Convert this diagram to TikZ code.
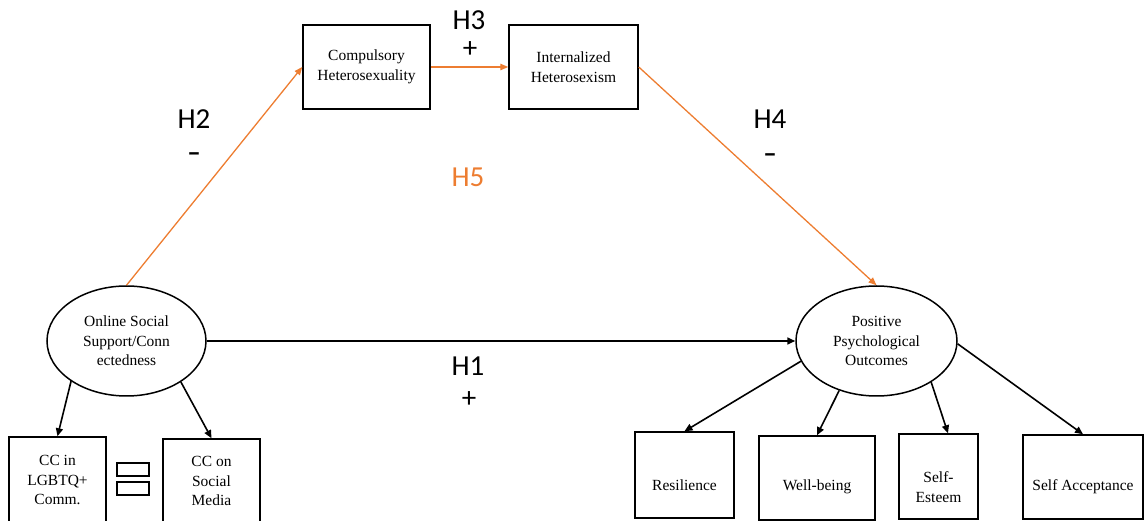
\documentclass[tikz,border=0pt]{standalone}
\usepackage{fontspec}
\setmainfont{Liberation Serif}
\newfontfamily\hypfont{Carlito}
\usetikzlibrary{arrows.meta,shapes.geometric}

\definecolor{pathorange}{RGB}{237,125,49}

\tikzset{
  varbox/.style={draw=black, line width=1.5pt, rectangle, inner sep=0pt,
    align=center, font=\fontsize{15.5}{19.5}\selectfont},
  latent/.style={draw=black, line width=1.5pt, ellipse, inner sep=0pt,
    align=center, font=\fontsize{15.5}{19.5}\selectfont},
  boxtext/.style={inner sep=0pt, align=center, font=\fontsize{15.5}{19.5}\selectfont},
  hyp/.style={inner sep=0pt, font=\hypfont\fontsize{29}{30}\selectfont},
  sign/.style={inner sep=0pt, font=\hypfont\bfseries\fontsize{27}{30}\selectfont},
  blackarrow/.style={draw=black, line width=1.6pt, -{Triangle[length=8pt,width=7pt]}},
  orangearrow/.style={draw=pathorange, line width=1.3pt, -{Triangle[length=8pt,width=6.5pt]}},
  eqbar/.style={draw=black, line width=1.6pt, rectangle, inner sep=0pt,
    minimum width=32pt, minimum height=13pt}
}

\begin{document}
\begin{tikzpicture}[x=1pt, y=-1pt]
\useasboundingbox (0,0) rectangle (1144,521);

% mediators
\node[varbox, minimum width=127pt, minimum height=84pt] (comp) at (366.5,67)
  {Compulsory\\Heterosexuality};
\node[varbox, minimum width=129pt, minimum height=84pt] (intern) at (573.5,67)
  {Internalized\\Heterosexism};

% latent constructs
\node[latent, minimum width=159pt, minimum height=110pt] (oss) at (126.5,341)
  {Online Social\\Support/Conn\\ectedness};
\node[latent, minimum width=161pt, minimum height=110pt] (ppo) at (876.5,341)
  {Positive\\Psychological\\Outcomes};

% indicators of online support
\node[varbox, minimum width=97pt, minimum height=86pt] (ccin) at (57.5,480)
  {CC in\\LGBTQ+\\Comm.};
\node[varbox, minimum width=97pt, minimum height=84pt] (ccon) at (211.5,481)
  {CC on\\Social\\Media};
\node[eqbar] (eqtop) at (133,469.5) {};
\node[eqbar] (eqbot) at (133,488.5) {};

% indicators of positive outcomes
\node[varbox, minimum width=99pt, minimum height=86pt] (res) at (684.5,475) {};
\node[varbox, minimum width=116pt, minimum height=84pt] (wb) at (817,478) {};
\node[varbox, minimum width=79pt, minimum height=85pt] (se) at (938.5,476.5) {};
\node[varbox, minimum width=120pt, minimum height=84pt] (sa) at (1083,477) {};
\node[boxtext] (res-t) at (684.5,485) {Resilience};
\node[boxtext] (wb-t) at (817,487) {Well-being};
\node[boxtext] (se-t) at (938.5,487) {Self-\\Esteem};
\node[boxtext] (sa-t) at (1083,487) {Self Acceptance};

% hypothesis labels
\node[hyp] (h3) at (469,20.5) {H3};
\node[hyp] (h3s) at (470,50) {+};
\node[hyp] (h2) at (194,119.5) {H2};
\node[sign] (h2s) at (194,157) {\textendash};
\node[hyp] (h4) at (770,119) {H4};
\node[sign] (h4s) at (770,158) {\textendash};
\node[hyp, text=pathorange] (h5) at (468,177) {H5};
\node[hyp] (h1) at (468,366) {H1};
\node[hyp] (h1s) at (469,400) {+};

% mediated path
\draw[orangearrow] (oss.north) -- (comp.west);
\draw[orangearrow] (comp.east) -- (intern.west);
\draw[orangearrow] (intern.east) -- (ppo.north);

% direct path
\draw[blackarrow] (oss.east) -- (ppo.west);

% measurement arrows
\draw[blackarrow] (oss.216) -- (ccin.north);
\draw[blackarrow] (oss.-37) -- (ccon.north);
\draw[blackarrow] (ppo.195) -- (res.north);
\draw[blackarrow] (ppo.233) -- (wb.north);
\draw[blackarrow] (ppo.-37) -- ([xshift=9.5pt]se.north);
\draw[blackarrow] (ppo.-2) -- (sa.north);
\end{tikzpicture}
\end{document}
